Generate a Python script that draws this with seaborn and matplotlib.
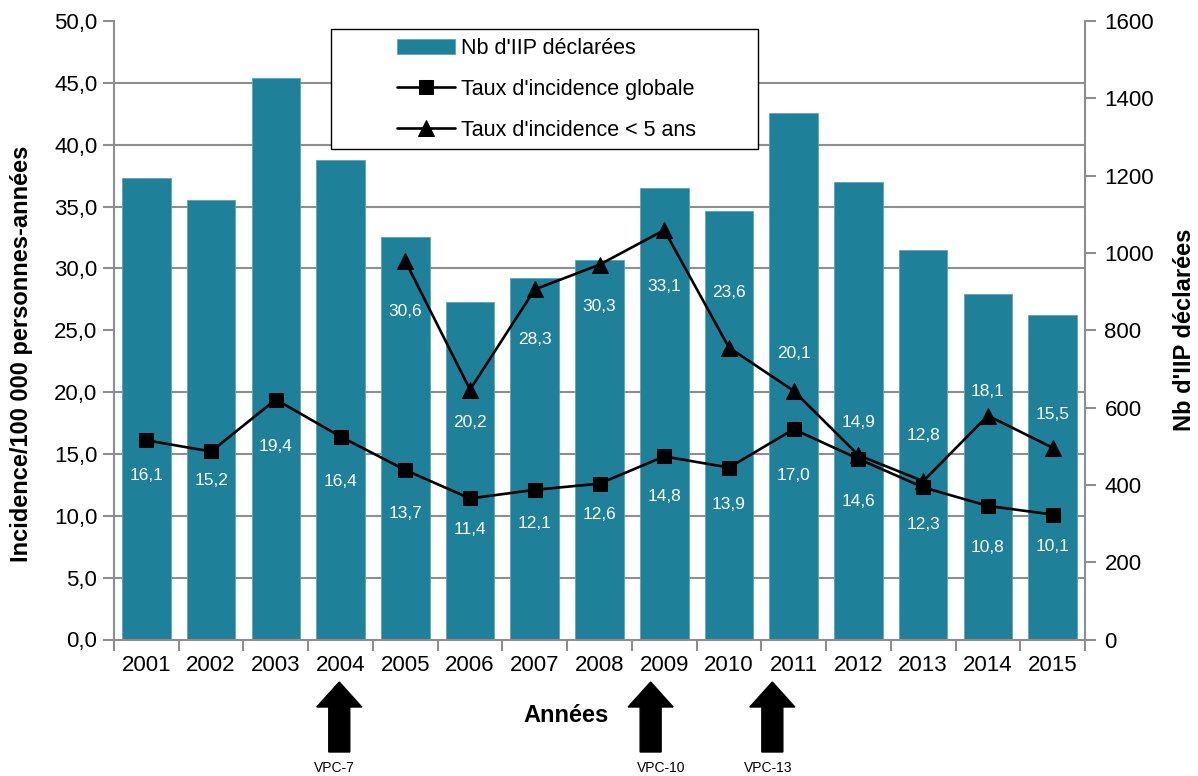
import numpy as np
import pandas as pd
import matplotlib
matplotlib.use("Agg")
import matplotlib.pyplot as plt
import matplotlib.transforms as mtransforms
from matplotlib.patches import Rectangle, FancyArrow
from matplotlib.ticker import MultipleLocator, FuncFormatter
import seaborn as sns

# ---- data -------------------------------------------------------------
years = ["2001", "2002", "2003", "2004", "2005", "2006", "2007", "2008",
         "2009", "2010", "2011", "2012", "2013", "2014", "2015"]
nb_iip = [1193, 1137, 1453, 1240, 1041, 874, 934, 982,
          1167, 1108, 1361, 1183, 1008, 894, 839]
taux_global = [16.1, 15.2, 19.4, 16.4, 13.7, 11.4, 12.1, 12.6,
               14.8, 13.9, 17.0, 14.6, 12.3, 10.8, 10.1]
years_moins5 = ["2005", "2006", "2007", "2008", "2009", "2010",
                "2011", "2012", "2013", "2014", "2015"]
taux_moins5 = [30.6, 20.2, 28.3, 30.3, 33.1, 23.6, 20.1, 14.9, 12.8, 18.1, 15.5]
vaccins = [("2004", "VPC-7"), ("2009", "VPC-10"), ("2011", "VPC-13")]

# ---- style ------------------------------------------------------------
sns.set_style("white")
plt.rcParams["font.family"] = ["Liberation Sans", "DejaVu Sans"]
plt.rcParams["text.color"] = "black"
plt.rcParams["axes.labelcolor"] = "black"
plt.rcParams["xtick.labelcolor"] = "black"
plt.rcParams["ytick.labelcolor"] = "black"

BAR = "#1e8199"
GRID = "#8e8e8e"

fig = plt.figure(figsize=(11.98, 7.76), dpi=100)
ax = fig.add_axes([114 / 1198, 1 - 639.5 / 776, 971 / 1198, 618.5 / 776])
ax2 = ax.twinx()

# bars (counts, right axis) sit underneath the incidence lines
ax.set_zorder(ax2.get_zorder() + 1)
ax.patch.set_visible(False)

df_bar = pd.DataFrame({"annee": years, "nb": nb_iip})
sns.barplot(data=df_bar, x="annee", y="nb", order=years, color=BAR,
            saturation=1, width=0.75, ax=ax2, label="Nb d'IIP déclarées",
            edgecolor="#5aa6b8", linewidth=0.6)
if ax2.get_legend() is not None:
    ax2.get_legend().remove()

pos = {y: i for i, y in enumerate(years)}
df_g = pd.DataFrame({"x": [pos[y] for y in years], "taux": taux_global})
df_5 = pd.DataFrame({"x": [pos[y] for y in years_moins5], "taux": taux_moins5})
sns.lineplot(data=df_g, x="x", y="taux", ax=ax, color="black", lw=1.9,
             marker="s", markersize=10, markeredgecolor="black",
             label="Taux d'incidence globale")
sns.lineplot(data=df_5, x="x", y="taux", ax=ax, color="black", lw=1.9,
             marker="^", markersize=12, markeredgecolor="black",
             label="Taux d'incidence < 5 ans")

# ---- axes ------------------------------------------------------------
ax.set_xlim(-0.5, len(years) - 0.5)
ax.set_ylim(0, 50)
ax2.set_ylim(0, 1600)

comma = FuncFormatter(lambda v, p: f"{v:.1f}".replace(".", ","))
ax.yaxis.set_major_locator(MultipleLocator(5))
ax.yaxis.set_major_formatter(comma)
ax2.yaxis.set_major_locator(MultipleLocator(200))
ax2.yaxis.set_major_formatter(FuncFormatter(lambda v, p: f"{v:.0f}"))

# horizontal grid follows the left scale, drawn behind the bars
ax2.yaxis.set_minor_locator(MultipleLocator(1600 / 10))
ax2.set_axisbelow(True)
ax2.grid(True, which="minor", axis="y", color=GRID, lw=1.5)
ax2.grid(False, which="major")
ax.grid(False)
ax2.tick_params(axis="y", which="minor", length=0)

# category boundaries carry the tick marks, labels sit at the centres
ax.set_xticks(np.arange(len(years) + 1) - 0.5)
ax.set_xticklabels([])
ax.set_xticks(np.arange(len(years)), labels=years, minor=True)
ax.tick_params(axis="x", which="major", length=8, width=1.5, color=GRID,
               direction="out", bottom=True)
ax.tick_params(axis="x", which="minor", length=0, pad=11, labelsize=16)
ax.tick_params(axis="y", length=8, width=1.5, color=GRID, direction="out",
               left=True, labelsize=16, pad=4)
ax2.tick_params(axis="y", which="major", length=8, width=1.5, color=GRID,
                direction="out", right=True, labelsize=16, pad=6)
ax2.set_xlabel("")

for a in (ax, ax2):
    for s in a.spines.values():
        s.set_visible(False)
ax.spines["left"].set_visible(True)
ax.spines["bottom"].set_visible(True)
ax2.spines["right"].set_visible(True)
for s in (ax.spines["left"], ax.spines["bottom"], ax2.spines["right"]):
    s.set_color(GRID)
    s.set_linewidth(1.5)

ax.set_xlabel("Années", fontsize=17, fontweight="bold")
ax.xaxis.set_label_coords(0.466, -0.105)
ax.set_ylabel("Incidence/100 000 personnes-années", fontsize=17,
              fontweight="bold")
ax.yaxis.set_label_coords(-0.083, 0.462)
ax2.set_ylabel("Nb d'IIP déclarées", fontsize=17, fontweight="bold")
ax2.yaxis.set_label_coords(1.091, 0.5)

# ---- value labels ------------------------------------------------------
lab_g = [35, 29, 47, 45, 43, 31, 34, 31, 40, 37, 46, 43, 37, 42, 32]
lab_5 = [51, 33, 50, 42, 56, -55, -37, -33, -46, -24, -33]
for x, v, d in zip(df_g["x"], taux_global, lab_g):
    ax.annotate(f"{v:.1f}".replace(".", ","), (x, v), xytext=(0, -d * 0.72),
                textcoords="offset points", ha="center", va="center",
                color="white", fontsize=12.5, zorder=6)
for x, v, d in zip(df_5["x"], taux_moins5, lab_5):
    ax.annotate(f"{v:.1f}".replace(".", ","), (x, v), xytext=(0, -d * 0.72),
                textcoords="offset points", ha="center", va="center",
                color="white", fontsize=12.5, zorder=6)

# ---- legend ------------------------------------------------------------
ax.get_legend().remove()
h1, l1 = ax2.get_legend_handles_labels()
h2, l2 = ax.get_legend_handles_labels()
box = Rectangle((217 / 971, (639.5 - 149) / 618.5), 427 / 971, 120 / 618.5,
                transform=ax.transAxes, facecolor="white", edgecolor="black",
                lw=1.0, zorder=7, clip_on=False)
ax.add_patch(box)
leg = ax.legend(h1 + h2, l1 + l2, loc="upper left",
                bbox_to_anchor=(397 / 1198, 1 - 38 / 776),
                bbox_transform=fig.transFigure, frameon=False, fontsize=15.5,
                handlelength=2.7, handletextpad=0.25, labelspacing=0.92,
                borderpad=0, borderaxespad=0)
leg.set_zorder(8)

# ---- vaccine introduction arrows ---------------------------------------
blend = mtransforms.blended_transform_factory(ax.transData, fig.transFigure)
arrow_shift = {"VPC-7": -0.02, "VPC-10": -0.21, "VPC-13": -0.33}
text_shift = {"VPC-7": -0.1, "VPC-10": -0.04, "VPC-13": -0.4}
for year, name in vaccins:
    xa = pos[year] + arrow_shift[name]
    arr = FancyArrow(xa, 24 / 776, 0, 70 / 776, width=21 / 64.73,
                     head_width=45 / 64.73, head_length=25 / 776,
                     length_includes_head=True, transform=blend,
                     color="black", clip_on=False)
    fig.add_artist(arr)
    fig.text(pos[year] + text_shift[name], 8 / 776, name, transform=blend,
             ha="center", va="center", fontsize=10)

fig.savefig("out.png", dpi=100)
